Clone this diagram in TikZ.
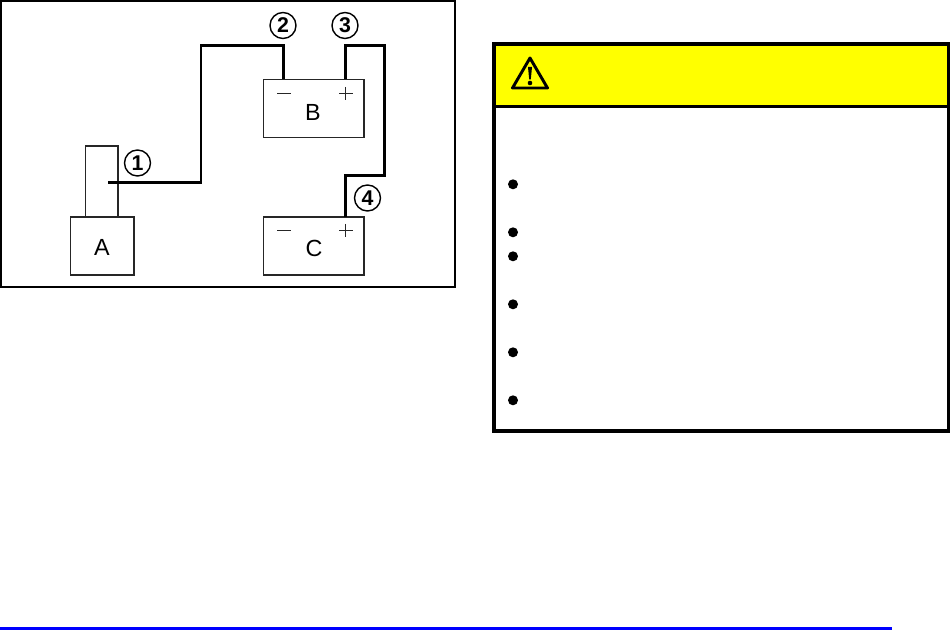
\documentclass[tikz,border=0pt]{standalone}
\usepackage{fontspec}
\setmainfont{Liberation Sans}
\definecolor{cautionyellow}{RGB}{255,255,0}
\definecolor{ruleblue}{RGB}{0,0,255}
\tikzset{
  px/.style={x=0.75pt,y=-0.75pt},
  part/.style={draw=black!85,line width=0.9pt,fill=white,inner sep=0pt,outer sep=0pt},
  partlabel/.style={inner sep=0pt,font=\fontsize{17.5}{19}\selectfont},
  wire/.style={draw=black,line width=2.1pt,line join=miter},
  callout/.style={draw=black,line width=1.05pt,circle,minimum size=19.5pt,inner sep=0pt,font=\fontsize{16}{17}\selectfont\bfseries},
  sign/.style={draw=black!85,line width=0.95pt},
  bulletdot/.style={circle,fill=black,minimum size=7.5pt,inner sep=0pt},
}
\begin{document}
\begin{tikzpicture}[px]
\useasboundingbox (0,0) rectangle (950,630);
\fill[white] (0,0) rectangle (950,630);
% left frame
\draw[black,line width=1.5pt] (1,1) rectangle (455,287.5);
% parts
\node[part,anchor=north west,minimum width=32.5*0.75pt,minimum height=71*0.75pt] (stem) at (85.5,146) {};
\node[part,anchor=north west,minimum width=63.5*0.75pt,minimum height=58*0.75pt] (A) at (70.5,217) {};
\node[partlabel] at (102,247) (Alab) {A};
\node[part,anchor=north west,minimum width=100.5*0.75pt,minimum height=58*0.75pt] (B) at (263.5,79.5) {};
\node[partlabel] at (313,112) (Blab) {B};
\node[part,anchor=north west,minimum width=100.5*0.75pt,minimum height=58*0.75pt] (C) at (263.5,217) {};
\node[partlabel] at (314,248) (Clab) {C};
% terminals
\coordinate (t1) at (108,182.5);
\coordinate (bneg) at (283.5,79.5);
\coordinate (bpos) at (345.5,79.5);
\coordinate (cpos) at (345.5,217);
% wires
\draw[wire] (t1) -- (201,182.5) -- (201,45.5) -- (283.5,45.5) -- (bneg);
\draw[wire] (bpos) -- (345.5,45.5) -- (384.5,45.5) -- (384.5,175.5) -- (345.5,175.5) -- (cpos);
% signs
\draw[sign] (277,93.5) -- (291,93.5);
\draw[sign] (339,93.5) -- (352.5,93.5) (345.5,87) -- (345.5,100);
\draw[sign] (277,230.5) -- (291,230.5);
\draw[sign] (339,230.5) -- (352.5,230.5) (345.5,224) -- (345.5,237);
% callouts
\node[callout] (c1) at (137.5,163) {1};
\node[callout] (c2) at (283,25.5) {2};
\node[callout] (c3) at (345,25.5) {3};
\node[callout] (c4) at (367.5,198) {4};
% caution box
\fill[cautionyellow] (494,44) rectangle (948.5,107);
\draw[black,line width=2.25pt] (494,107) -- (948.5,107);
\draw[black,line width=3pt] (494,44) rectangle (948.5,431.5);
% triangle
\draw[black,line width=2.2pt,line join=round] (530,58) -- (547.5,88) -- (512.5,88) -- cycle;
\fill[black] (528,67) -- (532,67) -- (530.8,79.5) -- (529.2,79.5) -- cycle;
\fill[black] (530,83) circle (2.3);
% bullets
\node[bulletdot] (b1) at (513,184.3) {};
\node[bulletdot] (b2) at (513,232.3) {};
\node[bulletdot] (b3) at (513,256.3) {};
\node[bulletdot] (b4) at (513,304.3) {};
\node[bulletdot] (b5) at (513,352.3) {};
\node[bulletdot] (b6) at (513,400.3) {};
% rule
\fill[ruleblue] (0,627) rectangle (891.7,630);
\end{tikzpicture}
\end{document}
